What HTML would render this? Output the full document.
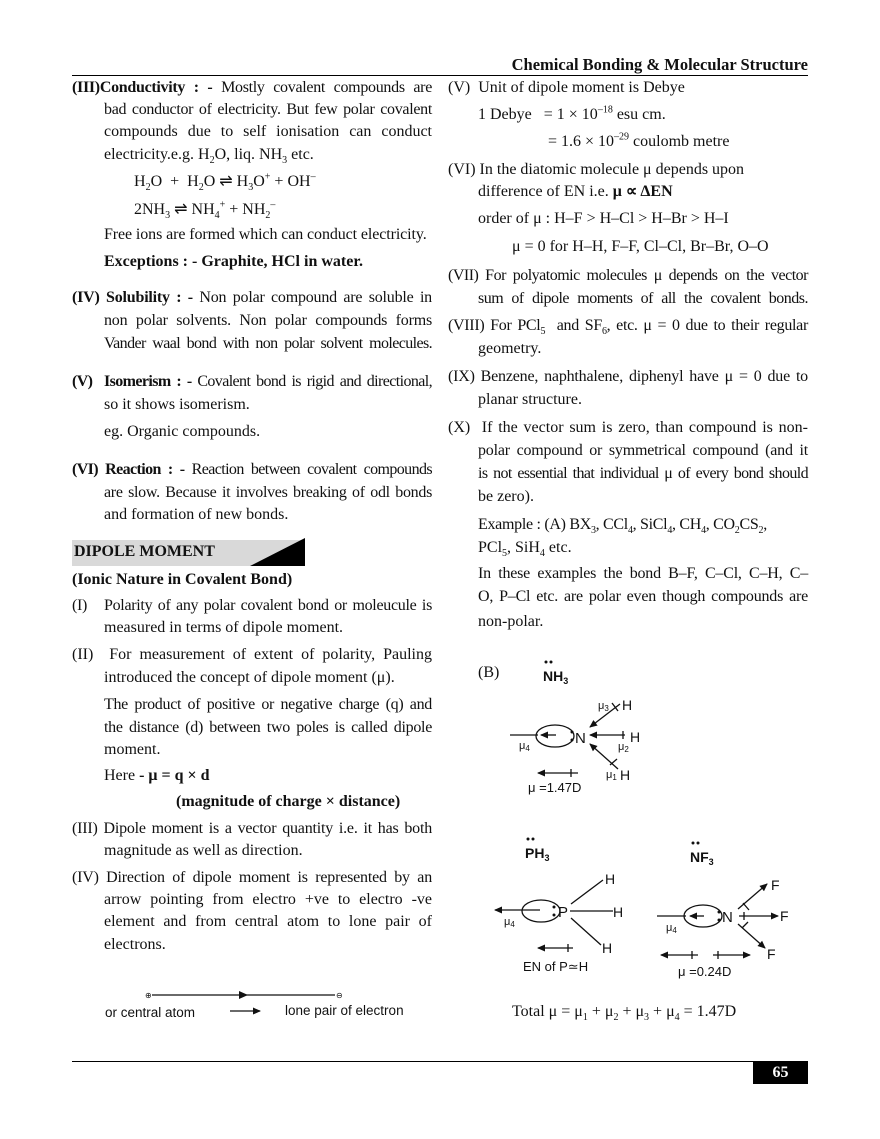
<!DOCTYPE html>
<html><head><meta charset="utf-8"><style>
*{margin:0;padding:0}
body{width:880px;height:1139px;background:#fff;position:relative;overflow:hidden;font-family:"Liberation Serif",serif;font-size:16px;color:#111}
.l{position:absolute;white-space:nowrap;line-height:20px}
.j{text-align:justify;text-align-last:justify;white-space:normal}
.L{left:104px;width:328px}
.R{left:478px;width:330px}
b{font-weight:bold}
sub,sup{font-size:10px;line-height:0}
.sans{font-family:"Liberation Sans",sans-serif}
</style></head><body>
<div class="l" style="right:72px;top:55px;font-weight:bold;font-size:16.5px">Chemical Bonding &amp; Molecular Structure</div>
<div style="position:absolute;left:72px;top:75px;width:736px;height:1px;background:#000"></div>

<!-- left column -->
<div class="l j" style="left:72px;width:360px;top:78px;letter-spacing:-0.3px"><b>(III)Conductivity : -</b> Mostly covalent compounds are</div>
<div class="l j L" style="top:100px;letter-spacing:-0.3px">bad conductor of electricity. But few polar covalent</div>
<div class="l j L" style="top:122px">compounds due to self ionisation can conduct</div>
<div class="l L" style="top:145px">electricity.e.g. H<sub>2</sub>O, liq. NH<sub>3</sub> etc.</div>
<div class="l" style="left:134px;top:172px">H<sub>2</sub>O &nbsp;+ &nbsp;H<sub>2</sub>O ⇌ H<sub>3</sub>O<sup>+</sup> + OH<sup>–</sup></div>
<div class="l" style="left:134px;top:200px">2NH<sub>3</sub> ⇌ NH<sub>4</sub><sup>+</sup> + NH<sub>2</sub><sup>–</sup></div>
<div class="l L" style="top:225px;letter-spacing:-0.1px">Free ions are formed which can conduct electricity.</div>
<div class="l L" style="top:252px"><b>Exceptions : - Graphite, HCl in water.</b></div>
<div class="l j" style="left:72px;width:360px;top:288px;letter-spacing:-0.2px"><b>(IV) Solubility : -</b> Non polar compound are soluble in</div>
<div class="l j L" style="top:311px;letter-spacing:-0.2px">non polar solvents. Non polar compounds forms</div>
<div class="l j L" style="top:334px;letter-spacing:-0.6px">Vander waal bond with non polar solvent molecules.</div>
<div class="l j" style="left:72px;width:360px;top:372px;letter-spacing:-0.6px"><b>(V) &nbsp;Isomerism : -</b> Covalent bond is rigid and directional,</div>
<div class="l L" style="top:395px">so it shows isomerism.</div>
<div class="l L" style="top:422px">eg. Organic compounds.</div>
<div class="l j" style="left:72px;width:360px;top:460px;letter-spacing:-0.6px"><b>(VI) Reaction : -</b> Reaction between covalent compounds</div>
<div class="l j L" style="top:483px;letter-spacing:-0.3px">are slow. Because it involves breaking of odl bonds</div>
<div class="l L" style="top:505px">and formation of new bonds.</div>
<div style="position:absolute;left:72px;top:540px;width:233px;height:26px;background:#d9d9d9"></div>
<svg style="position:absolute;left:250px;top:538px" width="56" height="30"><polygon points="0,28 55,0 55,28" fill="#000"/></svg>
<div class="l" style="left:74px;top:542px;font-weight:bold">DIPOLE MOMENT</div>
<div class="l" style="left:72px;top:570px;font-weight:bold">(Ionic Nature in Covalent Bond)</div>
<div class="l j" style="left:72px;width:360px;top:596px;letter-spacing:-0.3px"><span style="display:inline-block;width:32px;text-align:left;text-align-last:left">(I)</span>Polarity of any polar covalent bond or moleucule is</div>
<div class="l L" style="top:618px">measured in terms of dipole moment.</div>
<div class="l j" style="left:72px;width:360px;top:645px">(II) &nbsp;For measurement of extent of polarity, Pauling</div>
<div class="l L" style="top:668px">introduced the concept of dipole moment (μ).</div>
<div class="l j L" style="top:695px;letter-spacing:-0.3px">The product of positive or negative charge (q) and</div>
<div class="l j L" style="top:718px;letter-spacing:-0.3px">the distance (d) between two poles is called dipole</div>
<div class="l L" style="top:740px">moment.</div>
<div class="l L" style="top:766px">Here <b>- μ = q × d</b></div>
<div class="l" style="left:176px;top:792px;font-weight:bold">(magnitude of charge × distance)</div>
<div class="l j" style="left:72px;width:360px;top:819px;letter-spacing:-0.2px">(III) Dipole moment is a vector quantity i.e. it has both</div>
<div class="l L" style="top:841px">magnitude as well as direction.</div>
<div class="l j" style="left:72px;width:360px;top:868px;letter-spacing:-0.2px">(IV) Direction of dipole moment is represented by an</div>
<div class="l j L" style="top:890px">arrow pointing from electro +ve to electro -ve</div>
<div class="l j L" style="top:912px">element and from central atom to lone pair of</div>
<div class="l L" style="top:935px">electrons.</div>
<div class="l sans" style="left:105px;top:1003px;font-size:13.5px">or central atom</div>
<div class="l sans" style="left:285px;top:1001px;font-size:13.5px">lone pair of electron</div>

<!-- right column -->
<div class="l" style="left:448px;top:78px">(V) &nbsp;Unit of dipole moment is Debye</div>
<div class="l" style="left:478px;top:105px">1 Debye &nbsp;&nbsp;= 1 × 10<sup>–18</sup> esu cm.</div>
<div class="l" style="left:548px;top:132px">= 1.6 × 10<sup>–29</sup> coulomb metre</div>
<div class="l" style="left:448px;top:160px">(VI) In the diatomic molecule μ depends upon</div>
<div class="l R" style="top:182px">difference of EN i.e. <b>μ ∝ ΔEN</b></div>
<div class="l R" style="top:209px">order of μ : H–F &gt; H–Cl &gt; H–Br &gt; H–I</div>
<div class="l" style="left:512px;top:237px">μ = 0 for H–H, F–F, Cl–Cl, Br–Br, O–O</div>
<div class="l j" style="left:448px;width:360px;top:266px;letter-spacing:-0.5px">(VII) For polyatomic molecules μ depends on the vector</div>
<div class="l j R" style="top:289px;letter-spacing:-0.5px">sum of dipole moments of all the covalent bonds.</div>
<div class="l j" style="left:448px;width:360px;top:316px;letter-spacing:-0.3px">(VIII) For PCl<sub>5</sub> &nbsp;and SF<sub>6</sub>, etc. μ = 0 due to their regular</div>
<div class="l R" style="top:339px">geometry.</div>
<div class="l j" style="left:448px;width:360px;top:367px;letter-spacing:-0.2px">(IX) Benzene, naphthalene, diphenyl have μ = 0 due to</div>
<div class="l R" style="top:390px">planar structure.</div>
<div class="l j" style="left:448px;width:360px;top:418px">(X) &nbsp;If the vector sum is zero, than compound is non-</div>
<div class="l j R" style="top:441px;letter-spacing:-0.2px">polar compound or symmetrical compound (and it</div>
<div class="l j R" style="top:464px;letter-spacing:-0.6px">is not essential that individual μ of every bond should</div>
<div class="l R" style="top:487px">be zero).</div>
<div class="l R" style="top:515px;letter-spacing:-0.3px">Example : (A) BX<sub>3</sub>, CCl<sub>4</sub>, SiCl<sub>4</sub>, CH<sub>4</sub>, CO<sub>2</sub>CS<sub>2</sub>,</div>
<div class="l R" style="top:538px">PCl<sub>5</sub>, SiH<sub>4</sub> etc.</div>
<div class="l j R" style="top:564px;letter-spacing:-0.2px">In these examples the bond B–F, C–Cl, C–H, C–</div>
<div class="l j R" style="top:587px;letter-spacing:-0.2px">O, P–Cl etc. are polar even though compounds are</div>
<div class="l R" style="top:612px">non-polar.</div>
<div class="l" style="left:478px;top:663px">(B)</div>
<div class="l" style="left:512px;top:1002px">Total μ = μ<sub>1</sub> + μ<sub>2</sub> + μ<sub>3</sub> + μ<sub>4</sub> = 1.47D</div>

<div style="position:absolute;left:72px;top:1061px;width:736px;height:1px;background:#000"></div>
<div style="position:absolute;left:753px;top:1062px;width:55px;height:22px;background:#000;color:#fff;font-weight:bold;font-size:16px;text-align:center;line-height:22px">65</div>

<svg style="position:absolute;left:0;top:0" width="880" height="1139" font-family="Liberation Sans, sans-serif" fill="none" stroke="#111" stroke-width="1.3">
<defs><marker id="a" markerWidth="8" markerHeight="8" refX="7" refY="4" orient="auto" markerUnits="userSpaceOnUse"><path d="M0,0.5 L8,4 L0,7.5z" fill="#111" stroke="none"/></marker></defs>
<line x1="152" y1="995" x2="335" y2="995"/>
<polygon points="239,991 248,995 239,999" fill="#111" stroke="none"/>
<text x="145" y="998" font-size="8" fill="#111" stroke="none">⊕</text>
<text x="336" y="998" font-size="8" fill="#111" stroke="none">⊖</text>
<line x1="230" y1="1011" x2="260" y2="1011" marker-end="url(#a)"/>

<g fill="#111" stroke="none" font-size="14">
<text x="543" y="681" font-weight="bold" font-size="14">NH<tspan font-size="9" dy="3">3</tspan></text>
<circle cx="546" cy="662" r="1.5"/><circle cx="551" cy="662" r="1.5"/>
<text x="575" y="743" font-size="15">N</text>
<circle cx="572" cy="732" r="1.5"/><circle cx="572" cy="740" r="1.5"/>
<text x="630" y="742">H</text><text x="622" y="710">H</text><text x="620" y="780">H</text>
<text x="598" y="709" font-size="11">μ<tspan font-size="8" dy="2">3</tspan></text>
<text x="618" y="750" font-size="11">μ<tspan font-size="8" dy="2">2</tspan></text>
<text x="519" y="749" font-size="11">μ<tspan font-size="8" dy="2">4</tspan></text>
<text x="606" y="778" font-size="11">μ<tspan font-size="8" dy="2">1</tspan></text>
<text x="528" y="792" font-size="13">μ =1.47D</text>
<text x="525" y="858" font-weight="bold">PH<tspan font-size="9" dy="3">3</tspan></text>
<circle cx="528" cy="839" r="1.5"/><circle cx="533" cy="839" r="1.5"/>
<text x="558" y="917" font-size="15">P</text>
<circle cx="554" cy="907" r="1.5"/><circle cx="554" cy="915" r="1.5"/>
<text x="605" y="884">H</text><text x="613" y="917">H</text><text x="602" y="953">H</text>
<text x="504" y="925" font-size="11">μ<tspan font-size="8" dy="2">4</tspan></text>
<text x="523" y="971" font-size="13">EN of P≃H</text>
<text x="690" y="862" font-weight="bold">NF<tspan font-size="9" dy="3">3</tspan></text>
<circle cx="693" cy="843" r="1.5"/><circle cx="698" cy="843" r="1.5"/>
<text x="722" y="922" font-size="15">N</text>
<circle cx="719" cy="912" r="1.5"/><circle cx="719" cy="920" r="1.5"/>
<text x="771" y="890">F</text><text x="780" y="921">F</text><text x="767" y="959">F</text>
<text x="666" y="931" font-size="11">μ<tspan font-size="8" dy="2">4</tspan></text>
<text x="678" y="976" font-size="13">μ =0.24D</text>
</g>

<line x1="510" y1="735" x2="538" y2="735"/>
<ellipse cx="555" cy="736" rx="19" ry="11"/>
<line x1="556" y1="735" x2="541" y2="735" marker-end="url(#a)"/>
<line x1="625" y1="735" x2="590" y2="735" marker-end="url(#a)"/>
<line x1="623" y1="731" x2="623" y2="739"/>
<line x1="620" y1="704" x2="590" y2="727" marker-end="url(#a)"/>
<line x1="612" y1="703" x2="618" y2="711"/>
<line x1="618" y1="769" x2="590" y2="744" marker-end="url(#a)"/>
<line x1="610" y1="765" x2="617" y2="759"/>
<line x1="578" y1="773" x2="538" y2="773" marker-end="url(#a)"/>
<line x1="571" y1="769" x2="571" y2="777"/>
<ellipse cx="541" cy="911" rx="19" ry="11"/>
<line x1="540" y1="910" x2="495" y2="910" marker-end="url(#a)"/>
<line x1="571" y1="904" x2="603" y2="880"/>
<line x1="570" y1="911" x2="613" y2="911"/>
<line x1="571" y1="918" x2="601" y2="945"/>
<line x1="573" y1="948" x2="538" y2="948" marker-end="url(#a)"/>
<line x1="568" y1="944" x2="568" y2="952"/>
<line x1="657" y1="916" x2="686" y2="916"/>
<ellipse cx="703" cy="916" rx="19" ry="11"/>
<line x1="704" y1="916" x2="690" y2="916" marker-end="url(#a)"/>
<line x1="738" y1="909" x2="767" y2="884" marker-end="url(#a)"/>
<line x1="739" y1="916" x2="778" y2="916" marker-end="url(#a)"/>
<line x1="738" y1="924" x2="765" y2="948" marker-end="url(#a)"/>
<line x1="743" y1="903" x2="749" y2="910"/>
<line x1="744" y1="912" x2="744" y2="920"/>
<line x1="742" y1="928" x2="748" y2="922"/>
<line x1="698" y1="955" x2="661" y2="955" marker-end="url(#a)"/>
<line x1="692" y1="951" x2="692" y2="959"/>
<line x1="713" y1="955" x2="750" y2="955" marker-end="url(#a)"/>
<line x1="718" y1="951" x2="718" y2="959"/>
</svg>
</body></html>
